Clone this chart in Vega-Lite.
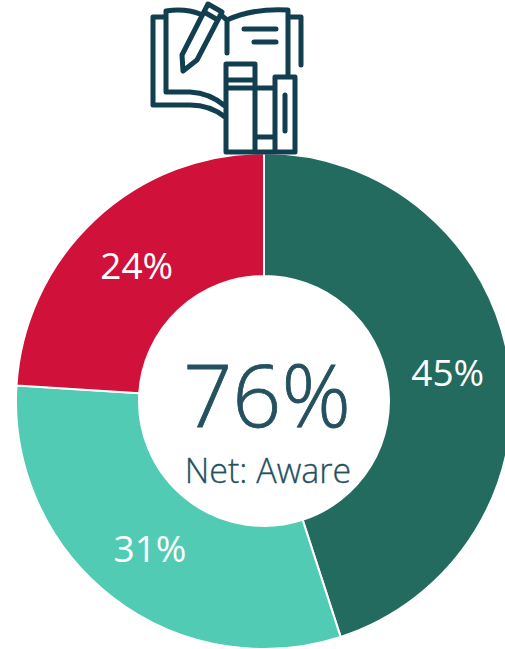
{
"$schema":"https://vega.github.io/schema/vega-lite/v6.json",
"width":505,"height":649,"padding":0,"autosize":"none",
"background":"white",
"view":{"stroke":null},
"config":{"style":{"cell":{"stroke":null}}},
"layer":[
{"data":{"values":[{"label":"45%","group":"A","value":45,"order":1},{"label":"31%","group":"B","value":31,"order":2},{"label":"24%","group":"C","value":24,"order":3}]},
"encoding":{
"theta":{"field":"value","type":"quantitative","stack":true},
"order":{"field":"order","type":"quantitative"}},
"layer":[
{"mark":{"type":"arc","x":264,"y":401,"outerRadius":248,"innerRadius":125,"stroke":"white","strokeWidth":2},
"encoding":{"color":{"field":"group","type":"nominal","legend":null,"scale":{"domain":["A","B","C"],"range":["#236b5e","#52cbb5","#d01139"]}}}},
{"mark":{"type":"text","x":264,"y":401,"radius":186,"dy":3,"font":"Open Sans","fontSize":37,"fill":"white","align":"center","baseline":"middle"},
"encoding":{"text":{"field":"label","type":"nominal"}}}
]},
{"data":{"values":[{"t":"76%"}]},
"mark":{"type":"text","x":267,"y":401,"font":"Open Sans","fontWeight":300,"fontSize":86,"fill":"#24505f","stroke":"#24505f","strokeWidth":0.8,"align":"center","baseline":"middle"},
"encoding":{"text":{"field":"t","type":"nominal"}}},
{"data":{"values":[{"t":"Net: Aware"}]},
"mark":{"type":"text","x":268,"y":473,"font":"Open Sans","fontWeight":300,"fontSize":34,"fill":"#24505f","stroke":"#24505f","strokeWidth":0.3,"align":"center","baseline":"middle"},
"encoding":{"text":{"field":"t","type":"nominal"}}},
{"data":{"values":[{"icon":"book"}]},
"mark":{"type":"point","x":140,"y":0,"size":4,"filled":false,"stroke":"#123f50","strokeWidth":5,"strokeCap":"round","strokeJoin":"round","opacity":1,
"shape":"M25,17 H13 V105 H50 Q70,105 85,117 M26,17 V92 H50 Q70,93 85,106 M26,11 V17 M26,11 Q45,8 60,14 M81,15 L87,20 V53 M87,20 Q113,8 148,10 V75 M150,17 H161 V65 M104,29 H136 M114,42 H136 M68,4 L82,12 L57,60 L43,71 L42,55 Z M64,12 L78,20 M86,64 H115 V152 H86 Z M86,80 H115 M86,88 H135 M115,137 H135 M135,77 H155 V152 H115 M135,77 V152 M145,95 V131"}}
]
}
